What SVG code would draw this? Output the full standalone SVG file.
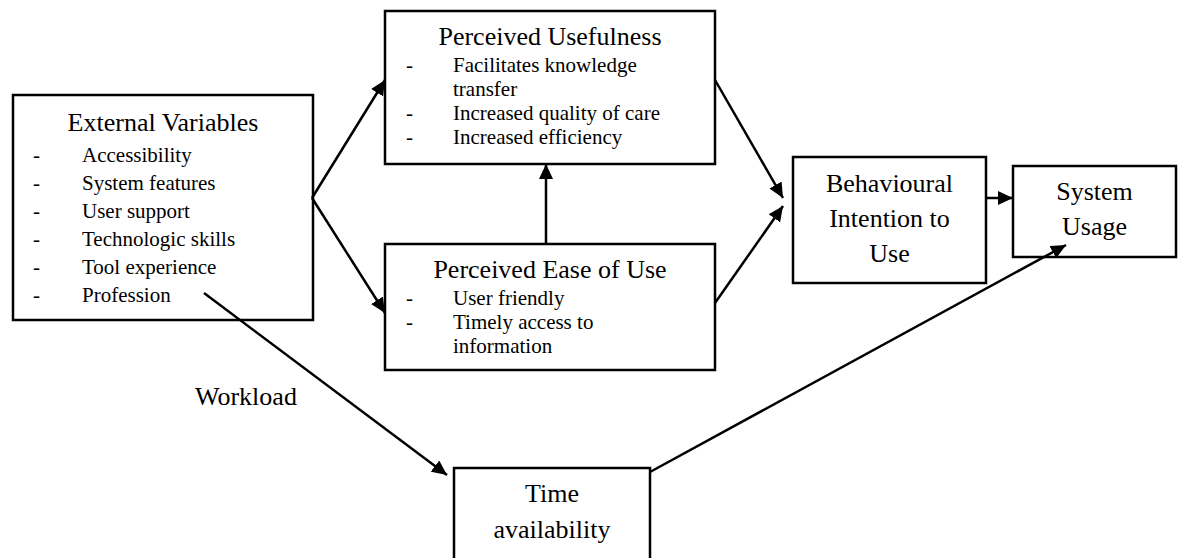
<svg xmlns="http://www.w3.org/2000/svg" width="1185" height="558" viewBox="0 0 1185 558">
<style>
.box{fill:#fff;stroke:#000;stroke-width:2.5}
.t{font-family:"Liberation Serif","Times New Roman",serif;fill:#000}
.title{font-size:26px;text-anchor:middle}
.item{font-size:21px}
.conn{stroke:#000;stroke-width:2.5;fill:none}
</style>
<defs>
<marker id="ah" markerUnits="userSpaceOnUse" markerWidth="16" markerHeight="14" refX="15" refY="7" orient="auto">
<path d="M0,0 L15,7 L0,14 z" fill="#000"/>
</marker>
</defs>
<g id="external">
<rect class="box" x="13" y="95" width="300" height="225"/>
<text class="t title" x="163" y="131">External Variables</text>
<g class="t item">
<text x="33" y="162">-</text><text x="82" y="162">Accessibility</text>
<text x="33" y="190">-</text><text x="82" y="190">System features</text>
<text x="33" y="218">-</text><text x="82" y="218">User support</text>
<text x="33" y="246">-</text><text x="82" y="246">Technologic skills</text>
<text x="33" y="274">-</text><text x="82" y="274">Tool experience</text>
<text x="33" y="302">-</text><text x="82" y="302">Profession</text>
</g>
</g>
<g id="usefulness">
<rect class="box" x="385" y="11" width="330" height="153"/>
<text class="t title" x="550" y="45">Perceived Usefulness</text>
<g class="t item">
<text x="406" y="72">-</text><text x="453" y="72">Facilitates knowledge</text>
<text x="453" y="96">transfer</text>
<text x="406" y="120">-</text><text x="453" y="120">Increased quality of care</text>
<text x="406" y="144">-</text><text x="453" y="144">Increased efficiency</text>
</g>
</g>
<g id="ease">
<rect class="box" x="385" y="244" width="330" height="126"/>
<text class="t title" x="550" y="278">Perceived Ease of Use</text>
<g class="t item">
<text x="406" y="305">-</text><text x="453" y="305">User friendly</text>
<text x="406" y="329">-</text><text x="453" y="329">Timely access to</text>
<text x="453" y="353">information</text>
</g>
</g>
<g id="intention">
<rect class="box" x="793" y="157" width="193" height="126"/>
<text class="t title" x="889.5" y="192">Behavioural</text>
<text class="t title" x="889.5" y="227">Intention to</text>
<text class="t title" x="889.5" y="262">Use</text>
</g>
<g id="usage">
<rect class="box" x="1013" y="166" width="163" height="91"/>
<text class="t title" x="1094.5" y="200">System</text>
<text class="t title" x="1094.5" y="235">Usage</text>
</g>
<g id="time">
<rect class="box" x="454" y="468" width="196" height="95"/>
<text class="t title" x="552" y="502">Time</text>
<text class="t title" x="552" y="538">availability</text>
</g>
<g id="connectors">
<line class="conn" x1="312" y1="198" x2="385" y2="80" marker-end="url(#ah)"/>
<line class="conn" x1="312" y1="198" x2="385" y2="313" marker-end="url(#ah)"/>
<line class="conn" x1="546" y1="244" x2="546" y2="164" marker-end="url(#ah)"/>
<line class="conn" x1="715" y1="80" x2="783" y2="198" marker-end="url(#ah)"/>
<line class="conn" x1="715" y1="303" x2="783" y2="206" marker-end="url(#ah)"/>
<line class="conn" x1="986" y1="198" x2="1013" y2="198" marker-end="url(#ah)"/>
<line class="conn" x1="204" y1="293" x2="447" y2="475" marker-end="url(#ah)"/>
<line class="conn" x1="650" y1="472" x2="1066" y2="245" marker-end="url(#ah)"/>
<text class="t" x="195" y="405" font-size="26">Workload</text>
</g>
</svg>
